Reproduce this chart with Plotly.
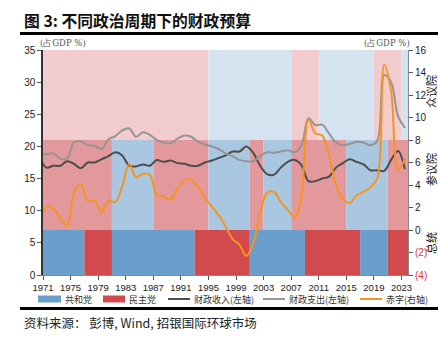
import plotly.graph_objects as go

# ---------------- data ----------------
years = list(range(1970, 2024))
revenue = [18.4, 16.7, 17.0, 17.0, 17.7, 17.3, 16.6, 17.5, 17.5, 18.0,
           18.5, 19.1, 18.6, 17.0, 16.9, 17.2, 17.0, 17.9, 17.6, 17.8,
           17.4, 17.3, 17.0, 17.0, 17.5, 17.8, 18.2, 18.6, 19.2, 19.2,
           20.0, 19.0, 17.0, 15.7, 15.6, 16.7, 17.6, 17.9, 17.1, 14.6,
           14.6, 15.0, 15.3, 16.7, 17.4, 18.0, 17.6, 17.2, 16.3, 16.3,
           16.2, 17.9, 19.3, 16.5]
spending = [18.7, 18.8, 18.9, 18.1, 18.1, 20.6, 20.8, 20.2, 20.1, 19.6,
            21.1, 21.6, 22.5, 22.8, 21.5, 22.2, 21.8, 21.0, 20.6, 20.5,
            21.2, 21.7, 21.5, 20.7, 20.3, 20.0, 19.6, 18.9, 18.5, 17.9,
            17.7, 17.7, 18.5, 19.1, 19.0, 19.2, 19.4, 19.1, 20.2, 24.4,
            23.3, 23.4, 22.0, 20.6, 20.2, 20.4, 20.7, 20.6, 20.2, 20.9,
            31.1, 30.0, 24.7, 22.9]
deficit = [0.3, 2.1, 1.9, 1.1, 0.4, 3.3, 4.1, 2.6, 2.6, 1.6,
           2.6, 2.5, 3.9, 5.9, 4.7, 5.0, 4.9, 3.1, 3.0, 2.7,
           3.7, 4.4, 4.5, 3.8, 2.8, 2.1, 1.3, 0.3, -0.8, -1.3,
           -2.3, -1.2, 1.5, 3.3, 3.4, 2.5, 1.8, 1.1, 3.1, 9.8,
           8.6, 8.4, 6.7, 4.0, 2.8, 2.4, 3.1, 3.4, 3.8, 4.6,
           14.7, 12.3, 5.4, 6.3]

# control periods: (start, end, party)  R = Republican, D = Democrat
president = [(1971, 1977, "R"), (1977, 1981, "D"), (1981, 1993, "R"), (1993, 2001, "D"),
             (2001, 2009, "R"), (2009, 2017, "D"), (2017, 2021, "R"), (2021, 2024, "D")]
senate = [(1971, 1981, "D"), (1981, 1987, "R"), (1987, 1995, "D"), (1995, 2001, "R"),
          (2001, 2003, "D"), (2003, 2007, "R"), (2007, 2015, "D"), (2015, 2021, "R"),
          (2021, 2024, "D")]
house = [(1971, 1995, "D"), (1995, 2007, "R"), (2007, 2011, "D"), (2011, 2019, "R"),
         (2019, 2023, "D"), (2023, 2024, "R")]

x_ticks = list(range(1971, 2024, 4))
left_ticks = [0, 5, 10, 15, 20, 25, 30, 35]
right_ticks = [-4, -2, 0, 2, 4, 6, 8, 10, 12, 14, 16]

# ---------------- styling ----------------
W, H = 438, 345
ML, MR, MT, MB = 43, 30, 50, 70
PW, PH = W - ML - MR, H - MT - MB

def px(xp):
    return (xp - ML) / PW

def py(yp):
    return (H - MB - yp) / PH

band_colors = {
    "house": {"R": "#d5e3f0", "D": "#f1cbcd"},
    "senate": {"R": "#a9c7e1", "D": "#e3999b"},
    "president": {"R": "#6a9ecb", "D": "#d24a4e"},
}
band_ranges = {"house": (21, 35), "senate": (7, 21), "president": (0, 7)}

xpos = [y + 0.5 for y in years]

fig = go.Figure()
fig.add_trace(go.Scatter(x=xpos, y=revenue, mode="lines", name="财政收入(左轴)",
                         line=dict(color="#4d4d4d", width=2, shape="spline", smoothing=1),
                         showlegend=False))
fig.add_trace(go.Scatter(x=xpos, y=spending, mode="lines", name="财政支出(左轴)",
                         line=dict(color="#959595", width=2, shape="spline", smoothing=1),
                         showlegend=False))
fig.add_trace(go.Scatter(x=xpos, y=deficit, mode="lines", name="赤字(右轴)", yaxis="y2",
                         line=dict(color="#f7931e", width=2, shape="spline", smoothing=1),
                         showlegend=False))

shapes = []
for key, periods in (("house", house), ("senate", senate), ("president", president)):
    y0, y1 = band_ranges[key]
    for s, e, p in periods:
        shapes.append(dict(type="rect", xref="x", yref="y", x0=s, x1=e, y0=y0, y1=y1,
                           fillcolor=band_colors[key][p], line=dict(width=0), layer="below"))

# frame lines
shapes.append(dict(type="line", xref="paper", yref="paper", x0=px(20), x1=px(438),
                   y0=py(33.5), y1=py(33.5), line=dict(color="black", width=3)))
shapes.append(dict(type="line", xref="paper", yref="paper", x0=px(20), x1=px(438),
                   y0=py(308.5), y1=py(308.5), line=dict(color="black", width=3)))

annotations = []
# manual legend
leg_y = 299
legend_items = [
    ("rect", band_colors["president"]["R"], 38, 61, "共和党"),
    ("rect", band_colors["president"]["D"], 103, 125, "民主党"),
    ("line", "#4d4d4d", 168, 190, "财政收入(左轴)"),
    ("line", "#959595", 263, 285, "财政支出(左轴)"),
    ("line", "#f7931e", 360, 382, "赤字(右轴)"),
]
for kind, col, x0, x1, label in legend_items:
    if kind == "rect":
        shapes.append(dict(type="rect", xref="paper", yref="paper", x0=px(x0), x1=px(x1),
                           y0=py(leg_y + 3.5), y1=py(leg_y - 3.5), fillcolor=col, line=dict(width=0)))
    else:
        shapes.append(dict(type="line", xref="paper", yref="paper", x0=px(x0), x1=px(x1),
                           y0=py(leg_y), y1=py(leg_y), line=dict(color=col, width=2)))
    annotations.append(dict(xref="paper", yref="paper", x=px(x1 + 2), y=py(leg_y), text=label,
                            showarrow=False, xanchor="left", yanchor="middle",
                            font=dict(size=9, color="#333", family="Noto Sans CJK SC")))

# title & source
annotations.append(dict(xref="paper", yref="paper", x=px(22), y=py(20), text="<b>图 3: 不同政治周期下的财政预算</b>",
                        showarrow=False, xanchor="left", yanchor="middle",
                        font=dict(size=15.8, color="#111", family="Noto Sans CJK SC")))
annotations.append(dict(xref="paper", yref="paper", x=px(22), y=py(322), text="资料来源： 彭博, Wind, 招银国际环球市场",
                        showarrow=False, xanchor="left", yanchor="middle",
                        font=dict(size=12.5, color="#222", family="Noto Sans CJK SC")))
# unit labels
for xx, anc in ((38, "left"), (412, "right")):
    annotations.append(dict(xref="paper", yref="paper", x=px(xx), y=py(43), text="(占GDP %)",
                            showarrow=False, xanchor=anc, yanchor="middle",
                            font=dict(size=8.5, color="#555", family="DejaVu Serif")))
# chamber labels
for txt, yy in (("众议院", 92), ("参议院", 170), ("总统", 243)):
    annotations.append(dict(xref="paper", yref="paper", x=px(431), y=py(yy), text=txt,
                            showarrow=False, textangle=-90, xanchor="center", yanchor="middle",
                            font=dict(size=11, color="#111", family="Noto Sans CJK SC")))

right_text = [f"<span style='color:#e8302f'>({-v})</span>" if v < 0 else str(v) for v in right_ticks]

fig.update_layout(
    width=W, height=H, margin=dict(l=ML, r=MR, t=MT, b=MB),
    paper_bgcolor="white", plot_bgcolor="white",
    showlegend=False,
    shapes=shapes, annotations=annotations,
    font=dict(family="Liberation Sans", size=10, color="#222"),
    xaxis=dict(range=[1971, 2023.95], tickvals=x_ticks, ticktext=[str(v) for v in x_ticks],
               ticks="outside", ticklen=4, tickcolor="#555", showgrid=False, zeroline=False,
               showline=True, linecolor="#888", linewidth=1, tickfont=dict(size=9.5)),
    yaxis=dict(range=[0, 35], tickvals=left_ticks, ticks="outside", ticklen=4, tickcolor="#555",
               showgrid=False, zeroline=False, showline=True, linecolor="#333", linewidth=1.5,
               tickfont=dict(size=10)),
    yaxis2=dict(range=[-4, 16], tickvals=right_ticks, ticktext=right_text, overlaying="y",
                side="right", ticks="outside", ticklen=4, tickcolor="#555", showgrid=False,
                zeroline=False, showline=True, linecolor="#888", linewidth=1,
                tickfont=dict(size=10)),
)

fig.write_html("out.html")
